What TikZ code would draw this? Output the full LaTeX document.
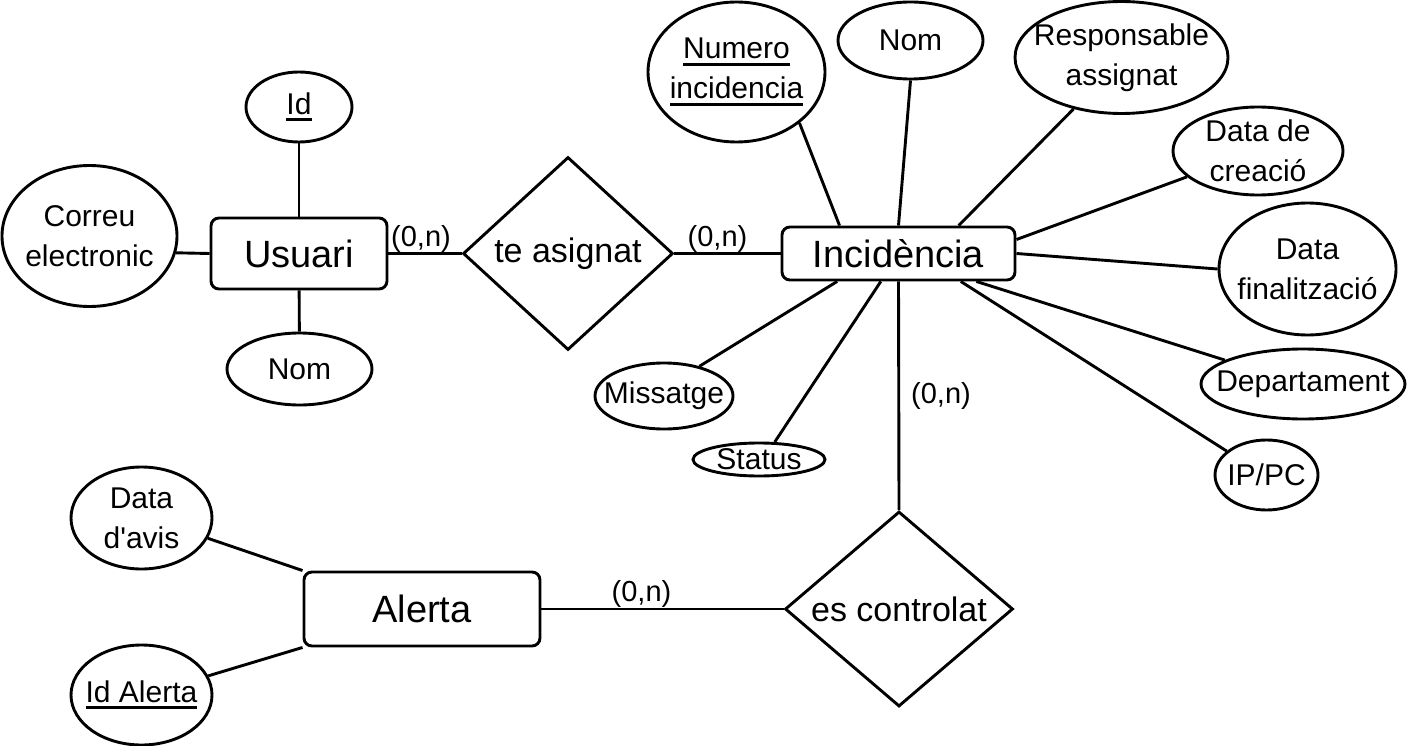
\documentclass[tikz,border=0pt]{standalone}
\usepackage{fontspec}
\setmainfont{Liberation Sans}[Ligatures=TeXOff]
\usetikzlibrary{shapes.geometric,calc}
\newcommand\attrf{\fontsize{30}{40}\selectfont}
\newcommand\entf{\fontsize{38}{46}\selectfont}
\newcommand\relf{\fontsize{34}{40}\selectfont}
\newcommand\cardf{\fontsize{29}{34}\selectfont}
\newcommand\keyul[1]{\setbox0\hbox{#1}\rlap{\vrule height -4pt depth 7pt width \wd0}\box0}
\begin{document}
\begin{tikzpicture}[x=1pt,y=-1pt,line width=2.9pt,
  attr/.style={ellipse,draw,inner sep=0pt},
  ent/.style={draw,rounded corners=8pt,inner sep=0pt,font=\entf},
  rel/.style={diamond,draw,inner sep=0pt},
  txt/.style={align=center,font=\attrf},
  rtxt/.style={align=center,font=\relf},
  card/.style={font=\cardf,inner sep=0pt}]
\useasboundingbox (0,0) rectangle (1407,746);

% Usuari
\node[ent,minimum width=176,minimum height=71] (usu) at (299,253.5) {Usuari};
\node[attr,minimum width=106,minimum height=70,label={[txt]center:\keyul{Id}}] (uid) at (299,107) {};
\node[attr,minimum width=175,minimum height=141,label={[txt]center:Correu\\electronic}] (corr) at (89.5,236) {};
\node[attr,minimum width=145,minimum height=72,label={[txt]center:Nom}] (unom) at (299.5,369) {};

% te asignat
\node[rel,minimum width=210,minimum height=193,label={[rtxt]center:te asignat}] (te) at (568,253.5) {};

% Incidencia
\node[ent,minimum width=233,minimum height=53] (inc) at (898.5,253.5) {Incidència};
\node[attr,minimum width=177,minimum height=140,label={[txt]center:\keyul{Numero}\\\keyul{incidencia}}] (num) at (736.5,72) {};
\node[attr,minimum width=145,minimum height=77,label={[txt]center:Nom}] (nom2) at (910.5,40.5) {};
\node[attr,minimum width=213,minimum height=112,label={[txt]center:Responsable\\assignat}] (resp) at (1121.5,57.5) {};
\node[attr,minimum width=170,minimum height=88,label={[txt]center:Data de\\creació}] (datac) at (1258,151) {};
\node[attr,minimum width=177,minimum height=132,label={[txt]center:Data\\finalització}] (dataf) at (1307.5,269) {};
\node[attr,minimum width=204,minimum height=70,label={[txt]center:Departament}] (dept) at (1303,384) {};
\node[attr,minimum width=103,minimum height=70,label={[txt]center:IP/PC}] (ip) at (1266.5,475) {};
\node[attr,minimum width=138,minimum height=66,label={[txt]center:Missatge}] (mis) at (664,396) {};
\node[attr,minimum width=132,minimum height=33,label={[txt]center:Status}] (stat) at (759,459.5) {};

% es controlat
\node[rel,minimum width=228,minimum height=195,label={[rtxt]center:es controlat}] (esc) at (899,609) {};

% Alerta
\node[ent,minimum width=236,minimum height=74] (al) at (422,609) {Alerta};
\node[attr,minimum width=141,minimum height=102,label={[txt]center:Data\\d'avis}] (datav) at (141.5,518) {};
\node[attr,minimum width=141,minimum height=100,label={[txt]center:\keyul{Id Alerta}}] (idal) at (141.5,695) {};

% connectors
\draw (uid) -- (usu);
\draw (corr.-11.3) -- (usu.west);
\draw (unom) -- (usu);
\draw (usu) -- node[card,above,xshift=-4pt]{(0,n)} (te);
\draw (te) -- node[card,above,xshift=-10pt]{(0,n)} (inc);

\draw (num.-39) -- ($(inc.north west)!0.25!(inc.north east)$);
\draw (nom2.south) -- (inc.north);
\draw (resp.227) -- ($(inc.north west)!0.755!(inc.north east)$);
\draw (datac.200) -- ($(inc.north east)!0.25!(inc.south east)$);
\draw (dataf.west) -- (inc.east);
\draw (dept.163) -- ($(inc.south west)!0.83!(inc.south east)$);
\draw (ip.149) -- ($(inc.south west)!0.764!(inc.south east)$);
\draw (mis.40) -- ($(inc.south west)!0.24!(inc.south east)$);
\draw (stat.48) -- ($(inc.south west)!0.425!(inc.south east)$);
\draw (inc.south) -- node[card,right=11pt]{(0,n)} (esc.north);

\draw (al) -- node[card,above,xshift=-21pt]{(0,n)} (esc);
\draw (datav.-17.8) -- (al.north west);
\draw (idal.16.5) -- (al.south west);
\end{tikzpicture}
\end{document}
